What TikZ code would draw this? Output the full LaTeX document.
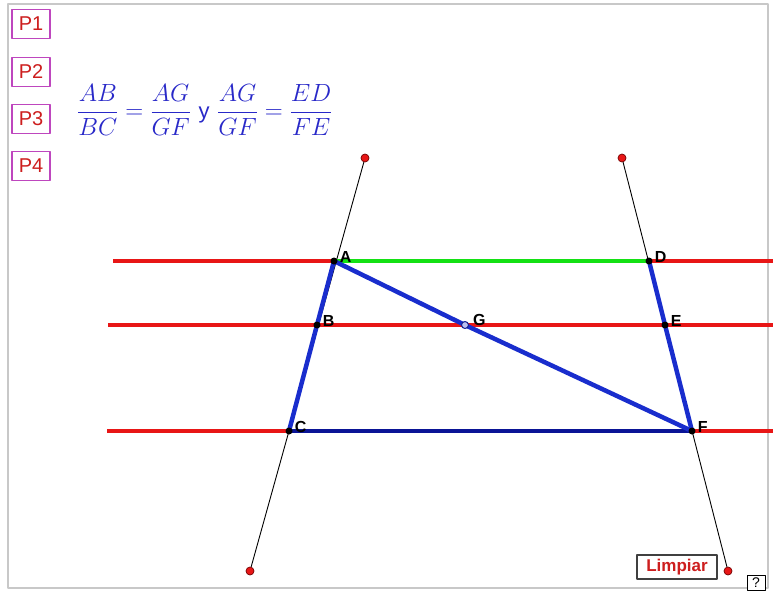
\documentclass[tikz,border=0pt]{standalone}
\usepackage{amsmath}
\usepackage{fontspec}
\setsansfont{Liberation Sans}
\usepackage{xcolor}
\usetikzlibrary{positioning}
\definecolor{gsframe}{RGB}{200,200,200}
\definecolor{gsred}{RGB}{232,22,22}
\definecolor{gsgreen}{RGB}{20,225,20}
\definecolor{gsblue}{RGB}{25,45,205}
\definecolor{gsnavy}{RGB}{10,20,150}
\definecolor{gsbtn}{RGB}{190,70,190}
\definecolor{gstxt}{RGB}{205,30,30}
\definecolor{gsform}{RGB}{40,40,200}
\tikzset{
  btn/.style={
    draw=gsbtn, fill=white, line width=1.6pt, text=gstxt,
    font=\fontsize{20}{20}\selectfont\sffamily,
    minimum width=38pt, minimum height=29pt, inner sep=0pt
  },
  pt/.style={circle, fill=black, inner sep=0pt, minimum size=7pt},
  gpt/.style={circle, fill=gsblue!30, draw=gsblue!70!black, line width=1pt, inner sep=0pt, minimum size=7pt},
  handle/.style={circle, fill=gsred, draw=red!45!black, line width=0.7pt, inner sep=0pt, minimum size=8pt},
  lbl/.style={font=\fontsize{16}{16}\selectfont\sffamily\bfseries, inner sep=0pt},
  paral/.style={draw=gsred, line width=4pt},
  seg/.style={draw=gsblue, line width=4.5pt},
  guide/.style={draw=black, line width=0.9pt},
  every picture/.append style={line join=round}
}
\begin{document}
\begin{tikzpicture}[x=1pt, y=-1pt]
  \useasboundingbox (0,0) rectangle (773,592);
  \draw[gsframe, line width=2pt] (8,4) rectangle (768,588);

  % buttons
  \node[btn] (p1) at (31,24) {P1};
  \node[btn] (p2) at (31,72) {P2};
  \node[btn] (p3) at (31,119) {P3};
  \node[btn] (p4) at (31,166) {P4};

  % relation
  \node[anchor=west, text=gsform, inner sep=0pt, font=\fontsize{25}{28}\selectfont] (rel) at (77,110)
    {$\dfrac{AB}{BC}=\dfrac{AG}{GF}$\ {\sffamily\fontsize{22}{22}\selectfont y}\ $\dfrac{AG}{GF}=\dfrac{ED}{FE}$};

  % guide ends and parallel ends
  \coordinate (l1) at (113,261); \coordinate (r1) at (773,261);
  \coordinate (l2) at (108,325); \coordinate (r2) at (773,325);
  \coordinate (l3) at (107,431); \coordinate (r3) at (773,431);
  \node[handle] (ht1) at (365,158) {};
  \node[handle] (hb1) at (250,571) {};
  \node[handle] (ht2) at (622,158) {};
  \node[handle] (hb2) at (728,571) {};

  % points
  \coordinate (A) at (334,261);
  \coordinate (B) at (317,325);
  \coordinate (C) at (289,431);
  \coordinate (D) at (649,261);
  \coordinate (E) at (665,325);
  \coordinate (F) at (692,431);
  \coordinate (G) at (465,325);

  \foreach \p/\q in {l1/r1,l2/r2,l3/r3}
    \draw[paral] (\p) -- (\q);
  \draw[guide] (ht1) -- (hb1);
  \draw[guide] (ht2) -- (hb2);
  \draw[draw=gsgreen, line width=4.5pt] (A) -- (D);
  \draw[draw=gsnavy, line width=4pt] (C) -- (F);
  \foreach \p/\q in {A/B,B/C,D/E,E/F,A/G,G/F}
    \draw[seg] (\p) -- (\q);

  \foreach \p in {A,B,C,D,E,F}
    \node[pt] (n\p) at (\p) {};
  \node[gpt] (nG) at (G) {};

  \node[lbl, above right=-4pt and 3pt of nA] {A};
  \node[lbl, above right=-4pt and 3pt of nB] {B};
  \node[lbl, above right=-4pt and 3pt of nC] {C};
  \node[lbl, above right=-4pt and 3pt of nD] {D};
  \node[lbl, above right=-4pt and 3pt of nE] {E};
  \node[lbl, above right=-4pt and 3pt of nF] {F};
  \node[lbl, above right=-4pt and 5pt of nG] {G};

  % bottom controls
  \node[draw=black!75, line width=1.2pt, fill=white, text=gstxt, inner sep=0pt,
    minimum width=80pt, minimum height=24pt,
    font=\fontsize{17}{17}\selectfont\sffamily\bfseries] (clear) at (677,567) {Limpiar};
  \node[draw=black, line width=1pt, fill=white, inner sep=0pt,
    minimum width=18pt, minimum height=15pt,
    font=\fontsize{14}{14}\selectfont\sffamily] (help) at (756,583) {?};
\end{tikzpicture}
\end{document}
